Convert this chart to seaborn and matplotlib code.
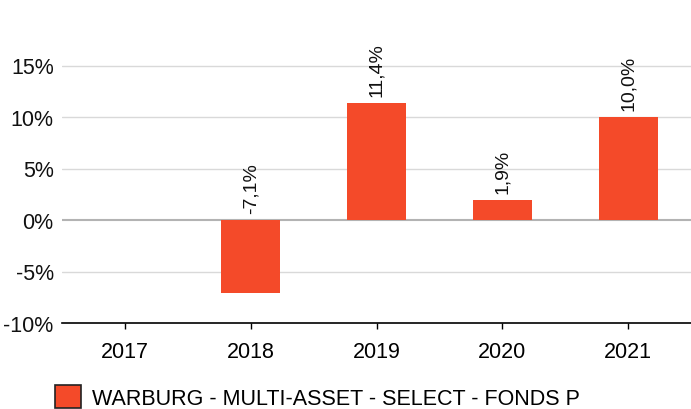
import matplotlib
matplotlib.use("Agg")
import matplotlib.pyplot as plt
import matplotlib.patches as mpatches
import seaborn as sns
import pandas as pd
import numpy as np

years = ["2017", "2018", "2019", "2020", "2021"]
returns = [np.nan, -7.1, 11.4, 1.9, 10.0]
fund_name = "WARBURG - MULTI-ASSET - SELECT - FONDS P"
bar_color = "#f44a29"

sns.set_theme(style="white")
plt.rcParams["font.family"] = ["Liberation Sans", "DejaVu Sans"]
plt.rcParams["text.color"] = "black"

df = pd.DataFrame({"year": years, "ret": returns})

fig = plt.figure(figsize=(6.91, 4.10), dpi=100)
ax = fig.add_axes([62 / 691, 1 - 324 / 410, 1 - 62 / 691, (324 - 15) / 410])

sns.barplot(data=df, x="year", y="ret", order=years, color=bar_color,
            width=0.47, saturation=1, linewidth=0, ax=ax, zorder=3)

ax.set_ylim(-10, 20)
ax.set_yticks([-10, -5, 0, 5, 10, 15])
ax.set_yticklabels([f"{t}%" for t in [-10, -5, 0, 5, 10, 15]])
ax.set_xlabel("")
ax.set_ylabel("")

for t in [-5, 5, 10, 15]:
    ax.axhline(t, color="#d9d9d9", lw=1, zorder=1)
ax.axhline(0, color="#b3b3b3", lw=1.5, zorder=2)

for s in ["top", "right", "left"]:
    ax.spines[s].set_visible(False)
ax.spines["bottom"].set_color("black")
ax.spines["bottom"].set_linewidth(1.2)

ax.tick_params(axis="y", length=0, labelsize=15.5, colors="#111111", pad=6)
ax.tick_params(axis="x", length=4, width=1, direction="out", bottom=True,
               labelsize=15.5, colors="black", pad=9)

for i, v in enumerate(returns):
    if np.isnan(v):
        continue
    base = max(v, 0)
    ax.annotate(f"{v:.1f}%".replace(".", ","), (i, base),
                xytext=(0, 5), textcoords="offset points",
                rotation=90, ha="center", va="bottom",
                fontsize=14, color="#111111")

handle = mpatches.Patch(facecolor=bar_color, edgecolor="#222222", lw=1.2)
fig.legend([handle], [fund_name], loc="lower left",
           bbox_to_anchor=(36 / 691, -19 / 410), frameon=False,
           fontsize=15.5, handlelength=1.2, handleheight=1.3,
           handletextpad=0.5)

fig.savefig("out.png", dpi=100)
